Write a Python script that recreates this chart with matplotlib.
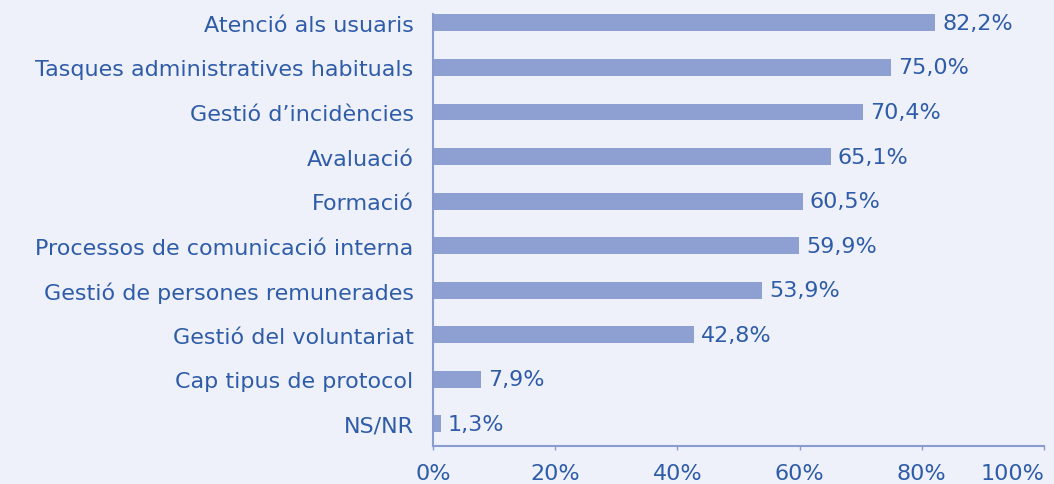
import matplotlib

matplotlib.use("Agg")
import matplotlib.pyplot as plt
from matplotlib.ticker import FuncFormatter

CATEGORIES = [
    "Atenció als usuaris",
    "Tasques administratives habituals",
    "Gestió d’incidències",
    "Avaluació",
    "Formació",
    "Processos de comunicació interna",
    "Gestió de persones remunerades",
    "Gestió del voluntariat",
    "Cap tipus de protocol",
    "NS/NR",
]
VALUES = [82.2, 75.0, 70.4, 65.1, 60.5, 59.9, 53.9, 42.8, 7.9, 1.3]
X_TICKS = [0, 20, 40, 60, 80, 100]

BG_COLOR = "#eef1f9"
BAR_COLOR = "#8e9fd2"
TEXT_COLOR = "#2f5ca8"
AXIS_COLOR = "#8a9bd0"
FONT_SIZE = 16


def main() -> None:
    fig = plt.figure(figsize=(10.54, 4.85), dpi=100, facecolor=BG_COLOR)
    ax = fig.add_axes([0.4108, 0.0784, 0.5797, 0.8906])
    ax.set_facecolor(BG_COLOR)

    positions = list(range(len(CATEGORIES)))
    ax.barh(positions, VALUES, height=0.38, color=BAR_COLOR, edgecolor="none")

    for pos, value in zip(positions, VALUES):
        label = f"{value:.1f}%".replace(".", ",")
        ax.annotate(
            label,
            xy=(value, pos),
            xytext=(5, 0),
            textcoords="offset points",
            va="center",
            ha="left",
            fontsize=FONT_SIZE,
            color=TEXT_COLOR,
        )

    ax.set_xlim(0, 100)
    ax.set_ylim(9.5, -0.2)
    ax.set_yticks(positions)
    ax.set_yticklabels(CATEGORIES)
    ax.set_xticks(X_TICKS)
    ax.xaxis.set_major_formatter(FuncFormatter(lambda v, _: f"{v:.0f}%"))

    ax.tick_params(axis="y", length=0, pad=14, labelsize=FONT_SIZE, labelcolor=TEXT_COLOR)
    ax.tick_params(
        axis="x",
        length=3,
        width=1,
        color=AXIS_COLOR,
        pad=9,
        labelsize=FONT_SIZE,
        labelcolor=TEXT_COLOR,
    )
    ax.get_xticklabels()[-1].set_horizontalalignment("right")

    for side in ["top", "right"]:
        ax.spines[side].set_visible(False)
    for side in ["left", "bottom"]:
        ax.spines[side].set_color(AXIS_COLOR)
        ax.spines[side].set_linewidth(1.5)

    fig.savefig("out.png", dpi=100, facecolor=BG_COLOR)
    plt.close(fig)


if __name__ == "__main__":
    main()
